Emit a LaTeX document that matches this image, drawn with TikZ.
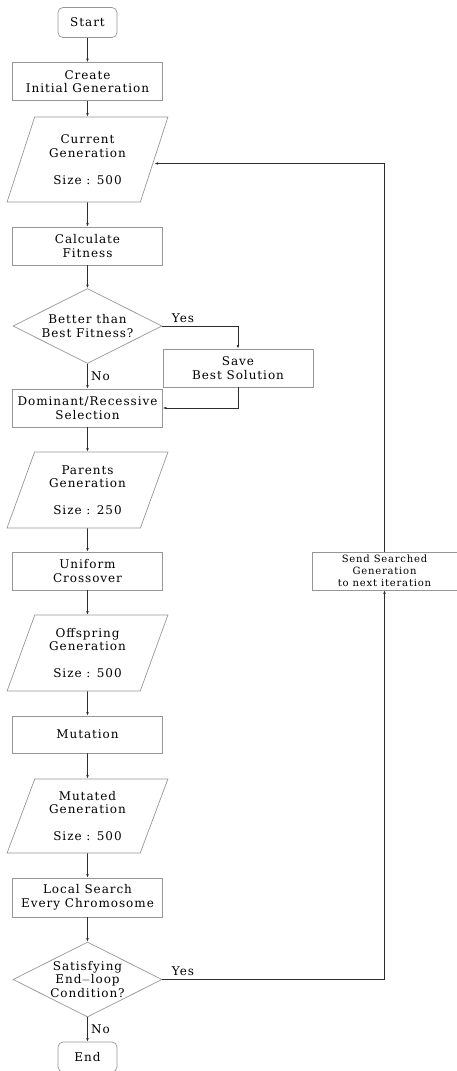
\documentclass[tikz,border=0pt]{standalone}
\usepackage{fontspec}
\setmainfont{DejaVu Serif}[LetterSpace=8]
\usetikzlibrary{shapes.geometric,arrows.meta}
\definecolor{boxgray}{RGB}{150,150,150}
\definecolor{linegray}{RGB}{45,45,45}

\tikzset{
    flowbox/.style={draw=boxgray, line width=0.7pt, minimum width=150pt, minimum height=38pt, inner sep=1pt, align=center, font=\fontsize{12}{13.5}\selectfont},
    termbox/.style={flowbox, rounded corners=5pt, minimum width=59pt, minimum height=30pt},
    genbox/.style={flowbox, trapezium, trapezium stretches=true, inner sep=0pt, trapezium left angle=68, trapezium right angle=112, minimum width=161pt, minimum height=76pt},
    askbox/.style={flowbox, diamond, aspect=2, inner sep=0pt, minimum width=149pt, minimum height=75pt},
    flow/.style={draw=linegray, line width=0.6pt, -{Latex[length=3.5pt,width=2.6pt]}},
    flowlabel/.style={font=\fontsize{12}{13.5}\selectfont}
}

\begin{document}
\begin{tikzpicture}[x=1pt, y=-1pt]
    \useasboundingbox (0,0) rectangle (457,1071);

    % Start
    \node[termbox] (start) at (87.5,22.5) {Start};

    % Initial generation
    \node[flowbox] (create) at (87.5,81.5) {Create\\Initial Generation};

    % Current generation
    \node[genbox, minimum height=85pt] (curgen) at (87.5,159.5) {Current\\Generation\\[13.5pt]Size : 500};

    % Fitness
    \node[flowbox] (fitness) at (87.5,246) {Calculate\\Fitness};

    % Best fitness check
    \node[askbox] (better) at (87.5,326) {Better than\\Best Fitness?};

    \node[flowbox] (save) at (238,368) {Save\\Best Solution};

    % Selection
    \node[flowbox] (select) at (87.5,408) {Dominant/Recessive\\Selection};

    \node[genbox] (parents) at (87.5,490) {Parents\\Generation\\[13.5pt]Size : 250};

    % Crossover
    \node[flowbox] (crossover) at (87.5,571) {Uniform\\Crossover};

    \node[genbox] (offspring) at (87.5,653) {Offspring\\Generation\\[13.5pt]Size : 500};

    % Mutation
    \node[flowbox, minimum height=37pt] (mutation) at (87.5,734.5) {Mutation};

    \node[genbox, minimum height=74pt] (mutated) at (87.5,816) {Mutated\\Generation\\[13.5pt]Size : 500};

    % Local search
    \node[flowbox, minimum height=39pt] (local) at (87.5,897.5) {Local Search\\Every Chromosome};

    % End-loop check
    \node[askbox] (endcheck) at (87.5,979.5) {Satisfying\\End$-$loop\\Condition?};

    % End
    \node[termbox] (end) at (87.5,1057) {End};

    % Next iteration
    \node[flowbox, minimum width=145pt, font=\fontsize{10}{11.8}\selectfont] (send) at (384.5,571) {Send Searched\\Generation\\to next iteration};

    % Arrows
    \draw[flow] (start) -- (create);
    \draw[flow] (create) -- (curgen);
    \draw[flow] (curgen) -- (fitness);
    \draw[flow] (fitness) -- (better);
    \draw[flow] (better) -- node[flowlabel, right] {No} (select);
    \draw[flow] (better.east) node[flowlabel, above right, xshift=6pt] {Yes} -| (save.north);
    \draw[flow] (save.south) |- (select.east);
    \draw[flow] (select) -- (parents);
    \draw[flow] (parents) -- (crossover);
    \draw[flow] (crossover) -- (offspring);
    \draw[flow] (offspring) -- (mutation);
    \draw[flow] (mutation) -- (mutated);
    \draw[flow] (mutated) -- (local);
    \draw[flow] (local) -- (endcheck);
    \draw[flow] (endcheck) -- node[flowlabel, right] {No} (end);
    \draw[flow] (endcheck.east) node[flowlabel, above right, xshift=6pt] {Yes} -| (send.south);
    \draw[flow] (send.north) |- ([yshift=-4pt]curgen.east);
\end{tikzpicture}
\end{document}
